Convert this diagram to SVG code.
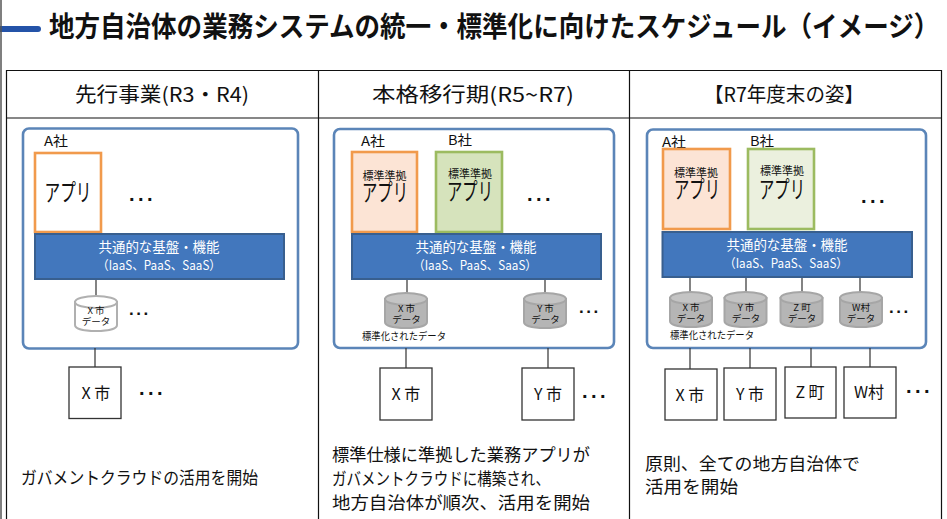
<svg xmlns="http://www.w3.org/2000/svg" width="947" height="519" viewBox="0 0 947 519">
<defs>
<style>
text{font-family:"Liberation Sans","Noto Sans CJK JP",sans-serif;fill:#111}
.j{font-family:"Noto Sans CJK JP","Noto Sans CJK SC",sans-serif}
.m{text-anchor:middle}
.frame{fill:none;stroke:#111;stroke-width:1.2}
.cont{fill:#fff;stroke:#5b85b8;stroke-width:2.6}
.oa{stroke:#f19a4c;stroke-width:2.6}
.gb{stroke:#9cbb60;stroke-width:2.6}
.band{fill:#4277bd;stroke:#385f8f;stroke-width:2}
.bt{fill:#fff;font-size:14px}
.bs{fill:#fff;font-size:12.5px}
.con{stroke:#333;stroke-width:1.2;fill:none}
.city{fill:#fff;stroke:#333;stroke-width:1.3}
.ct{font-size:16px}
.dot{font-size:20px;font-weight:bold;letter-spacing:3.5px}
.dm{font-size:17px;font-weight:bold;letter-spacing:2.5px}
.cap{font-size:17.5px}
.head{font-size:20px}
.co{font-size:13.5px}
.std{font-size:11px}
.app{font-size:24px}
.dt{font-size:9.5px}
.body{fill:#b5b5b5;stroke:#a6a6a6;stroke-width:2}
.top{fill:#c4c4c4;stroke:#a6a6a6;stroke-width:2}
</style>
<g id="cyl-shape"><path class="body" d="M0 6V29C0 33 9 35 21 35S42 33 42 29V6Z"/><ellipse class="top" cx="21" cy="6" rx="21" ry="6"/></g>
<g id="cyl-white"><path d="M0 6V29C0 33 9 35 21 35S42 33 42 29V6Z" fill="#fff" stroke="#b0b0b0" stroke-width="2"/><ellipse cx="21" cy="6" rx="21" ry="6" fill="#fff" stroke="#b0b0b0" stroke-width="2"/></g>
</defs>
<rect width="947" height="519" fill="#fff"/>
<g id="title">
<path d="M0 29H38" stroke="#2453a8" stroke-width="6" stroke-linecap="round" fill="none"/>
<path d="M1 0V519" stroke="#555" stroke-width="1.5"/>
<text class="j" transform="translate(49 37) scale(.912 1)" font-size="28" font-weight="700">地方自治体の業務システムの統一・標準化に向けたスケジュール（イメージ）</text>
</g>
<g id="table">
<path class="frame" d="M6.500 519V70.500H941.500V519M6.500 118H941.500M318.500 70.500V519M629.500 70.500V519"/>
<text class="j head m" x="162" y="102" textLength="174" lengthAdjust="spacingAndGlyphs">先行事業(R3・R4)</text>
<text class="j head m" x="473" y="102" textLength="202" lengthAdjust="spacingAndGlyphs">本格移行期(R5~R7)</text>
<text class="j head m" x="784" y="102" textLength="160" lengthAdjust="spacingAndGlyphs">【R7年度末の姿】</text>
</g>
<g id="containers">
<rect class="cont" x="23" y="128.500" width="275" height="220" rx="6"/>
<rect class="cont" x="334" y="129" width="280" height="219" rx="6"/>
<rect class="cont" x="647" y="129.500" width="279" height="218.500" rx="6"/>
</g>
<g id="connectors">
<path class="con" d="M96 279V297M95 348V367"/>
<path class="con" d="M407 279V294M545 279V294M406 348V368M548 348V368"/>
<path class="con" d="M690 277V292M746 277V292M802 277V292M860 277V292M690 348V369M750 348V368M811 348V367M870 348V367"/>
</g>
<g id="col1-app"><rect class="oa" x="35" y="153" width="66" height="79" fill="#fff"/><text class="j app m" x="68" y="201" textLength="47" lengthAdjust="spacingAndGlyphs">アプリ</text></g>
<text class="j co" x="44" y="146" textLength="24" lengthAdjust="spacingAndGlyphs">A社</text>
<text class="dot" x="129" y="201">...</text>
<g id="col1-band"><rect class="band" x="35" y="234" width="249" height="45"/><text class="j bt m" x="159" y="252" textLength="121" lengthAdjust="spacingAndGlyphs">共通的な基盤・機能</text><text class="j bs m" x="159" y="270" textLength="124" lengthAdjust="spacingAndGlyphs">（IaaS、PaaS、SaaS）</text></g>
<g id="col1-data"><use href="#cyl-white" x="75" y="296"/><text class="j dt m" x="96" y="314">X 市</text><text class="j dt m" x="96" y="325">データ</text></g>
<text class="dm" x="129" y="315">...</text>
<g id="col1-x"><rect class="city" x="69" y="367" width="52" height="51.500"/><text class="j ct m" x="96" y="399">X 市</text></g>
<text class="dot" x="139" y="395">...</text>
<text class="j cap" x="21" y="484" textLength="237" lengthAdjust="spacingAndGlyphs">ガバメントクラウドの活用を開始</text>

<text class="j co" x="361" y="146" textLength="24" lengthAdjust="spacingAndGlyphs">A社</text>
<text class="j co" x="448" y="145" textLength="24" lengthAdjust="spacingAndGlyphs">B社</text>
<g id="col2-a"><rect class="oa" x="352" y="152" width="65" height="80" fill="#fce4d5"/><text class="j std m" x="384.500" y="180" textLength="44" lengthAdjust="spacingAndGlyphs">標準準拠</text><text class="j app m" x="385" y="201" textLength="46" lengthAdjust="spacingAndGlyphs">アプリ</text></g>
<g id="col2-b"><rect class="gb" x="436" y="152" width="66" height="80" fill="#d6e3bc"/><text class="j std m" x="470" y="178" textLength="44" lengthAdjust="spacingAndGlyphs">標準準拠</text><text class="j app m" x="470" y="200" textLength="46" lengthAdjust="spacingAndGlyphs">アプリ</text></g>
<text class="dot" x="527" y="201">...</text>
<g id="col2-band"><rect class="band" x="352" y="234" width="249" height="45"/><text class="j bt m" x="476" y="252" textLength="121" lengthAdjust="spacingAndGlyphs">共通的な基盤・機能</text><text class="j bs m" x="475" y="270" textLength="124" lengthAdjust="spacingAndGlyphs">（IaaS、PaaS、SaaS）</text></g>
<g id="col2-xd"><use href="#cyl-shape" x="385" y="293"/><text class="j dt m" x="406.500" y="312">X 市</text><text class="j dt m" x="406.500" y="323">データ</text></g>
<g id="col2-yd"><use href="#cyl-shape" x="524" y="293"/><text class="j dt m" x="545.500" y="312">Y 市</text><text class="j dt m" x="545.500" y="323">データ</text></g>
<text class="dm" x="579" y="313">...</text>
<text class="j" x="362" y="340" font-size="10.500" textLength="84" lengthAdjust="spacingAndGlyphs">標準化されたデータ</text>
<g id="col2-x"><rect class="city" x="380" y="368" width="52" height="52"/><text class="j ct m" x="406" y="400">X 市</text></g>
<g id="col2-y"><rect class="city" x="522" y="368" width="52" height="52"/><text class="j ct m" x="548" y="400">Y 市</text></g>
<text class="dot" x="582" y="398">...</text>
<text class="j cap" x="332" y="461" textLength="258" lengthAdjust="spacingAndGlyphs">標準仕様に準拠した業務アプリが</text>
<text class="j cap" x="332" y="485" textLength="218" lengthAdjust="spacingAndGlyphs">ガバメントクラウドに構築され、</text>
<text class="j cap" x="332" y="509" textLength="258" lengthAdjust="spacingAndGlyphs">地方自治体が順次、活用を開始</text>

<text class="j co" x="662" y="147" textLength="24" lengthAdjust="spacingAndGlyphs">A社</text>
<text class="j co" x="750" y="146" textLength="24" lengthAdjust="spacingAndGlyphs">B社</text>
<g id="col3-a"><rect class="oa" x="663" y="149" width="67" height="80" fill="#fce4d5"/><text class="j std m" x="696" y="177" textLength="44" lengthAdjust="spacingAndGlyphs">標準準拠</text><text class="j app m" x="697" y="198" textLength="46" lengthAdjust="spacingAndGlyphs">アプリ</text></g>
<g id="col3-b"><rect class="gb" x="748" y="149" width="66" height="80" fill="#ebf0de"/><text class="j std m" x="782" y="175" textLength="44" lengthAdjust="spacingAndGlyphs">標準準拠</text><text class="j app m" x="782" y="198" textLength="46" lengthAdjust="spacingAndGlyphs">アプリ</text></g>
<text class="dot" x="861" y="203">...</text>
<g id="col3-band"><rect class="band" x="662.500" y="232" width="249.500" height="45"/><text class="j bt m" x="787" y="250" textLength="121" lengthAdjust="spacingAndGlyphs">共通的な基盤・機能</text><text class="j bs m" x="786" y="268" textLength="124" lengthAdjust="spacingAndGlyphs">（IaaS、PaaS、SaaS）</text></g>
<g id="col3-xd"><use href="#cyl-shape" x="670" y="292"/><text class="j dt m" x="691" y="311">X 市</text><text class="j dt m" x="691" y="322">データ</text></g>
<g id="col3-yd"><use href="#cyl-shape" x="724.500" y="292"/><text class="j dt m" x="746" y="311">Y 市</text><text class="j dt m" x="746" y="322">データ</text></g>
<g id="col3-zd"><use href="#cyl-shape" x="780.500" y="292"/><text class="j dt m" x="802" y="311">Z 町</text><text class="j dt m" x="802" y="322">データ</text></g>
<g id="col3-wd"><use href="#cyl-shape" x="840" y="292"/><text class="j dt m" x="861" y="311">W村</text><text class="j dt m" x="861" y="322">データ</text></g>
<text class="dm" x="889" y="313">...</text>
<text class="j" x="670" y="339" font-size="10.500" textLength="84" lengthAdjust="spacingAndGlyphs">標準化されたデータ</text>
<g id="col3-x"><rect class="city" x="665" y="369" width="52" height="51"/><text class="j ct m" x="690" y="401">X 市</text></g>
<g id="col3-y"><rect class="city" x="724" y="368" width="52" height="52"/><text class="j ct m" x="750" y="400">Y 市</text></g>
<g id="col3-z"><rect class="city" x="785" y="367" width="51" height="51"/><text class="j ct m" x="810" y="398">Z 町</text></g>
<g id="col3-w"><rect class="city" x="844" y="367" width="52" height="51"/><text class="j ct m" x="869" y="398">W村</text></g>
<text class="dot" x="906" y="393">...</text>
<text class="j cap" x="645" y="470" textLength="215" lengthAdjust="spacingAndGlyphs">原則、全ての地方自治体で</text>
<text class="j cap" x="645" y="493" textLength="93" lengthAdjust="spacingAndGlyphs">活用を開始</text>
</svg>
